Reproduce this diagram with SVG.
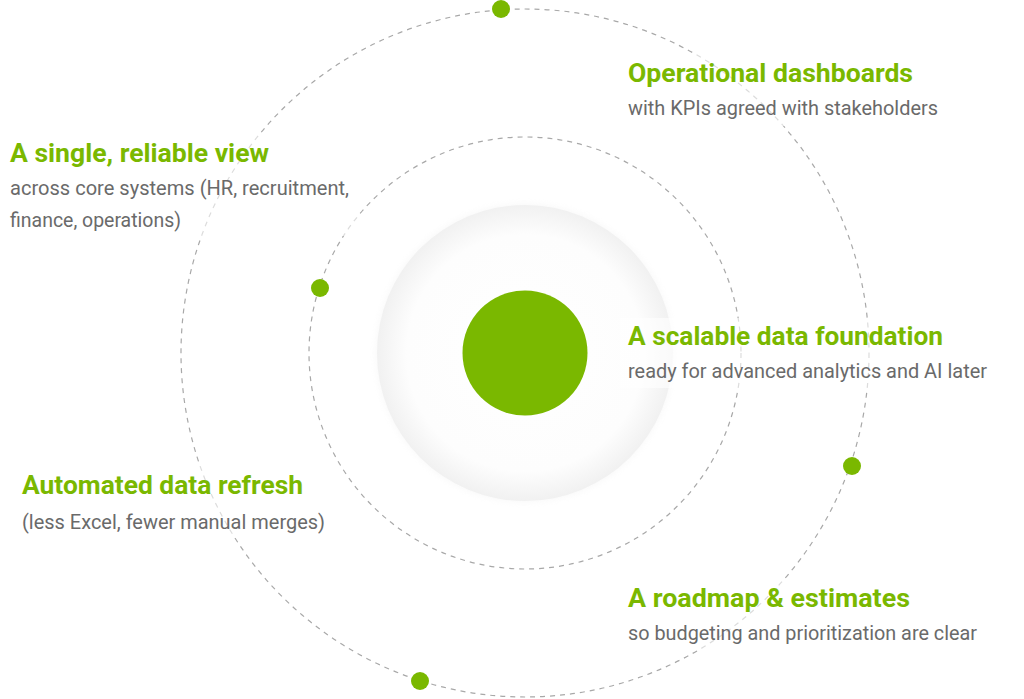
<svg xmlns="http://www.w3.org/2000/svg" width="1024" height="699" viewBox="0 0 1024 699">
  <style>
    .orbit { fill: none; stroke: #a8a8a8; stroke-width: 1.2; stroke-dasharray: 5 5; }
    .dot { fill: #7ab800; }
    .head { font-family: Roboto, "Liberation Sans", sans-serif; font-weight: 700; font-size: 26px; fill: #7ab800; }
    .body { font-family: Roboto, "Liberation Sans", sans-serif; font-weight: 400; font-size: 20px; fill: #6a6a6a; }
    .bg { fill: #ffffff; fill-opacity: 0.6; }
  </style>
  <defs>
    <radialGradient id="halo" cx="0.5" cy="0.5" r="0.5">
      <stop offset="0" stop-color="#ffffff"/>
      <stop offset="0.8" stop-color="#fdfdfd"/>
      <stop offset="1" stop-color="#f1f1f1"/>
    </radialGradient>
    <filter id="soft" x="-20%" y="-20%" width="140%" height="140%">
      <feGaussianBlur stdDeviation="3"/>
    </filter>
  </defs>
  <rect width="1024" height="699" fill="#ffffff"/>

  <g id="core">
    <circle cx="525" cy="353" r="149" fill="#ececec" filter="url(#soft)" opacity="0.35"/>
    <circle cx="525" cy="353" r="148" fill="url(#halo)"/>
    <circle cx="525" cy="353" r="62.5" fill="#7ab800"/>
  </g>

  <g id="orbits">
    <circle class="orbit" cx="525" cy="353" r="216"/>
    <circle class="orbit" cx="525" cy="353" r="344"/>
    <circle class="dot" cx="501" cy="9" r="9"/>
    <circle class="dot" cx="320" cy="288" r="9"/>
    <circle class="dot" cx="852" cy="466" r="9"/>
    <circle class="dot" cx="420" cy="681" r="9"/>
  </g>

  <g id="node-dashboards">
    <rect class="bg" x="620" y="54" width="326" height="72"/>
    <text class="head" x="628" y="82" textLength="285" lengthAdjust="spacingAndGlyphs">Operational dashboards</text>
    <text class="body" x="628" y="115" textLength="310" lengthAdjust="spacingAndGlyphs">with KPIs agreed with stakeholders</text>
  </g>

  <g id="node-single-view">
    <rect class="bg" x="2" y="134" width="356" height="102"/>
    <text class="head" x="10" y="162" textLength="259" lengthAdjust="spacingAndGlyphs">A single, reliable view</text>
    <text class="body" x="10" y="195" textLength="339" lengthAdjust="spacingAndGlyphs">across core systems (HR, recruitment,</text>
    <text class="body" x="10" y="227" textLength="171" lengthAdjust="spacingAndGlyphs">finance, operations)</text>
  </g>

  <g id="node-foundation">
    <rect class="bg" x="620" y="318" width="375" height="70"/>
    <text class="head" x="628" y="345" textLength="315" lengthAdjust="spacingAndGlyphs">A scalable data foundation</text>
    <text class="body" x="628" y="378" textLength="359" lengthAdjust="spacingAndGlyphs">ready for advanced analytics and AI later</text>
  </g>

  <g id="node-refresh">
    <rect class="bg" x="14" y="466" width="320" height="72"/>
    <text class="head" x="22" y="494" textLength="281" lengthAdjust="spacingAndGlyphs">Automated data refresh</text>
    <text class="body" x="22" y="529" textLength="303" lengthAdjust="spacingAndGlyphs">(less Excel, fewer manual merges)</text>
  </g>

  <g id="node-roadmap">
    <rect class="bg" x="620" y="579" width="366" height="70"/>
    <text class="head" x="628" y="607" textLength="282" lengthAdjust="spacingAndGlyphs">A roadmap &amp; estimates</text>
    <text class="body" x="628" y="640" textLength="349" lengthAdjust="spacingAndGlyphs">so budgeting and prioritization are clear</text>
  </g>
</svg>
